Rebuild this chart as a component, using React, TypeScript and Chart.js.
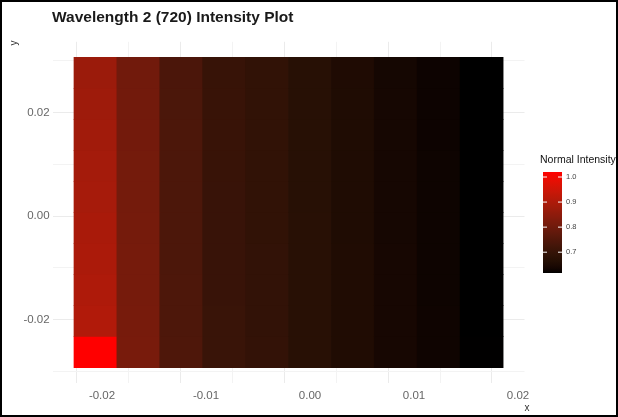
import React, { useEffect, useRef } from "react";
import { Chart, registerables } from "chart.js";

Chart.register(...registerables);

const TITLE = "Wavelength 2 (720) Intensity Plot";
const LEGEND_TITLE = "Normal Intensity";
const X_TITLE = "x";
const Y_TITLE = "y";

// tile centres (data units)
const xCenters = [-0.020625, -0.0165, -0.012375, -0.00825, -0.004125, 0.0, 0.004125, 0.00825, 0.012375, 0.0165];
const yCenters = [-0.0263, -0.0203, -0.0143, -0.0083, -0.0023, 0.0037, 0.0097, 0.0157, 0.0217, 0.0277];

// intensity rows, bottom row first, one value per x centre
const row0 = [1.02, 0.815, 0.743, 0.706, 0.694, 0.674, 0.656, 0.640, 0.630, 0.618];
const row1 = [0.905, 0.813, 0.742, 0.706, 0.693, 0.673, 0.656, 0.640, 0.630, 0.617];
const row2 = [0.9, 0.812, 0.742, 0.705, 0.693, 0.673, 0.656, 0.640, 0.629, 0.617];
const row3 = [0.895, 0.811, 0.741, 0.705, 0.693, 0.673, 0.656, 0.640, 0.629, 0.617];
const row4 = [0.892, 0.810, 0.741, 0.705, 0.692, 0.673, 0.655, 0.639, 0.629, 0.617];
const row5 = [0.888, 0.809, 0.741, 0.705, 0.692, 0.672, 0.655, 0.639, 0.629, 0.617];
const row6 = [0.884, 0.808, 0.740, 0.704, 0.692, 0.672, 0.655, 0.639, 0.629, 0.617];
const row7 = [0.880, 0.806, 0.740, 0.704, 0.692, 0.672, 0.655, 0.639, 0.628, 0.617];
const row8 = [0.876, 0.805, 0.739, 0.704, 0.691, 0.672, 0.655, 0.639, 0.628, 0.617];
const row9 = [0.870, 0.803, 0.738, 0.703, 0.691, 0.671, 0.654, 0.638, 0.628, 0.617];
const intensityRows = [row0, row1, row2, row3, row4, row5, row6, row7, row8, row9];

// grid lines and labelled ticks
const xGridValues = [-0.02, -0.015, -0.01, -0.005, 0, 0.005, 0.01, 0.015, 0.02];
const xTickLabels = ["-0.02", "", "-0.01", "", "0.00", "", "0.01", "", "0.02"];
const yGridValues = [-0.03, -0.02, -0.01, 0, 0.01, 0.02, 0.03];
const yTickLabels = ["", "-0.02", "", "0.00", "", "0.02", ""];
const legendTicks = [0.7, 0.8, 0.9, 1.0];

// ---- colour scale: black -> red, interpolated in CIE Lab (like ggplot) ----
function srgbToLin(c: number) {
  c /= 255;
  return c <= 0.04045 ? c / 12.92 : Math.pow((c + 0.055) / 1.055, 2.4);
}
function linToSrgb(c: number) {
  c = Math.max(0, Math.min(1, c));
  const v = c <= 0.0031308 ? 12.92 * c : 1.055 * Math.pow(c, 1 / 2.4) - 0.055;
  return Math.round(v * 255);
}
function rgbToLab(r: number, g: number, b: number) {
  const R = srgbToLin(r), G = srgbToLin(g), B = srgbToLin(b);
  const X = (0.4124 * R + 0.3576 * G + 0.1805 * B) / 0.95047;
  const Y = 0.2126 * R + 0.7152 * G + 0.0722 * B;
  const Z = (0.0193 * R + 0.1192 * G + 0.9505 * B) / 1.08883;
  const f = (t: number) => (t > 0.008856 ? Math.cbrt(t) : 7.787 * t + 16 / 116);
  const fx = f(X), fy = f(Y), fz = f(Z);
  return [116 * fy - 16, 500 * (fx - fy), 200 * (fy - fz)];
}
function labToRgb(L: number, a: number, b: number) {
  const fy = (L + 16) / 116;
  const fx = fy + a / 500;
  const fz = fy - b / 200;
  const inv = (t: number) => (t > 0.206893 ? t * t * t : (t - 16 / 116) / 7.787);
  const X = inv(fx) * 0.95047, Y = inv(fy), Z = inv(fz) * 1.08883;
  const R = 3.2406 * X - 1.5372 * Y - 0.4986 * Z;
  const G = -0.9689 * X + 1.8758 * Y + 0.0415 * Z;
  const B = 0.0557 * X - 0.204 * Y + 1.057 * Z;
  return [linToSrgb(R), linToSrgb(G), linToSrgb(B)];
}
const LOW_LAB = rgbToLab(0, 0, 0);
const HIGH_LAB = rgbToLab(255, 0, 0);
const allValues = intensityRows.flat();
const vMin = Math.min(...allValues);
const vMax = Math.max(...allValues);
function colorFor(v: number) {
  const t = Math.max(0, Math.min(1, (v - vMin) / (vMax - vMin)));
  const L = LOW_LAB[0] + (HIGH_LAB[0] - LOW_LAB[0]) * t;
  const A = LOW_LAB[1] + (HIGH_LAB[1] - LOW_LAB[1]) * t;
  const B = LOW_LAB[2] + (HIGH_LAB[2] - LOW_LAB[2]) * t;
  const [r, g, b] = labToRgb(L, A, B);
  return `rgb(${r},${g},${b})`;
}

const FONT = "'Liberation Sans', Arial, sans-serif";

const decorPlugin = {
  id: "decor",
  afterDraw(chart: any) {
    const ctx = chart.ctx as CanvasRenderingContext2D;
    ctx.save();
    // title
    ctx.fillStyle = "#1a1a1a";
    ctx.font = `bold 15.5px ${FONT}`;
    ctx.textAlign = "left";
    ctx.textBaseline = "alphabetic";
    ctx.fillText(TITLE, 52, 22);

    // axis titles
    ctx.fillStyle = "#333";
    ctx.font = `10px ${FONT}`;
    ctx.textAlign = "center";
    ctx.textBaseline = "middle";
    ctx.fillText(X_TITLE, 527, 408);
    ctx.save();
    ctx.translate(14, 43);
    ctx.rotate(-Math.PI / 2);
    ctx.fillText(Y_TITLE, 0, 0);
    ctx.restore();

    // colour bar legend
    const bx = 543, bw = 19, top = 172, bottom = 273;
    const grad = ctx.createLinearGradient(0, bottom, 0, top);
    for (let i = 0; i <= 40; i++) {
      const t = i / 40;
      grad.addColorStop(t, colorFor(vMin + (vMax - vMin) * t));
    }
    ctx.fillStyle = grad;
    ctx.fillRect(bx, top, bw, bottom - top);
    ctx.fillStyle = "#111";
    ctx.font = `10.5px ${FONT}`;
    ctx.textAlign = "left";
    ctx.textBaseline = "alphabetic";
    ctx.fillText(LEGEND_TITLE, 540, 163);
    ctx.font = `7.5px ${FONT}`;
    ctx.fillStyle = "#444";
    ctx.textBaseline = "middle";
    ctx.strokeStyle = "#fff";
    ctx.lineWidth = 1;
    for (const tv of legendTicks) {
      const y = bottom - ((tv - vMin) / (vMax - vMin)) * (bottom - top);
      ctx.beginPath();
      ctx.moveTo(bx, y);
      ctx.lineTo(bx + 4, y);
      ctx.moveTo(bx + bw - 4, y);
      ctx.lineTo(bx + bw, y);
      ctx.stroke();
      ctx.fillText(tv.toFixed(1), 566, y);
    }

    // outer frame
    ctx.strokeStyle = "#000";
    ctx.lineWidth = 2;
    ctx.strokeRect(1, 1, chart.width - 2, chart.height - 2);
    ctx.restore();
  },
};

export default function App() {
  const canvasRef = useRef<HTMLCanvasElement | null>(null);

  useEffect(() => {
    const canvas = canvasRef.current;
    if (!canvas) return;

    const xStep = xCenters[1] - xCenters[0];
    const yStep = yCenters[1] - yCenters[0];
    const xLo = xCenters[0] - xStep / 2;
    const xHi = xCenters[xCenters.length - 1] + xStep / 2;
    const yLo = yCenters[0] - yStep / 2;
    const yHi = yCenters[yCenters.length - 1] + yStep / 2;
    const xPad = 0.05 * (xHi - xLo);
    const yPad = 0.05 * (yHi - yLo);

    const data: any[] = [];
    const colors: string[] = [];
    intensityRows.forEach((row, r) => {
      row.forEach((v, c) => {
        data.push({ x: xCenters[c], y: [yCenters[r] - yStep / 2, yCenters[r] + yStep / 2], v });
        colors.push(colorFor(v));
      });
    });

    const gridColor = (labels: string[]) => (ctx: any) => {
      const i = ctx.index;
      return labels[i] ? "#EBEBEB" : "#F3F3F3";
    };

    const chart = new Chart(canvas, {
      type: "bar",
      data: {
        datasets: [
          {
            data,
            backgroundColor: colors,
            borderWidth: 0,
            inflateAmount: 0.4,
            barPercentage: 1,
            categoryPercentage: 1,
            grouped: false,
          } as any,
        ],
      },
      options: {
        animation: false,
        responsive: false,
        devicePixelRatio: 1,
        layout: { padding: { top: 41.8, right: 93.5, left: 0, bottom: 0 } },
        plugins: { legend: { display: false }, tooltip: { enabled: false }, title: { display: false } },
        scales: {
          x: {
            type: "linear",
            min: xLo - xPad,
            max: xHi + xPad,
            offset: false,
            border: { display: false },
            grid: { color: gridColor(xTickLabels), drawTicks: false, tickLength: 0, lineWidth: 1 },
            afterBuildTicks: (s: any) => {
              s.ticks = xGridValues.map((value) => ({ value }));
            },
            ticks: {
              autoSkip: false,
              maxRotation: 0,
              padding: 6,
              color: "#666",
              font: { family: FONT, size: 11.5 },
              callback: (_v: any, i: number) => xTickLabels[i],
            },
            afterFit: (s: any) => {
              s.height = 34;
            },
          },
          y: {
            type: "linear",
            min: yLo - yPad,
            max: yHi + yPad,
            border: { display: false },
            grid: { color: gridColor(yTickLabels), drawTicks: false, tickLength: 0, lineWidth: 1 },
            afterBuildTicks: (s: any) => {
              s.ticks = yGridValues.map((value) => ({ value }));
            },
            ticks: {
              autoSkip: false,
              padding: 3,
              color: "#666",
              font: { family: FONT, size: 11.5 },
              callback: (_v: any, i: number) => yTickLabels[i],
            },
            afterFit: (s: any) => {
              s.width = 52.6;
            },
          },
        },
      } as any,
      plugins: [decorPlugin],
    });

    return () => chart.destroy();
  }, []);

  return (
    <div style={{ position: "absolute", left: 0, top: 0, width: 618, height: 417, background: "#fff" }}>
      <canvas ref={canvasRef} width={618} height={417} style={{ width: 618, height: 417, display: "block" }} />
    </div>
  );
}
